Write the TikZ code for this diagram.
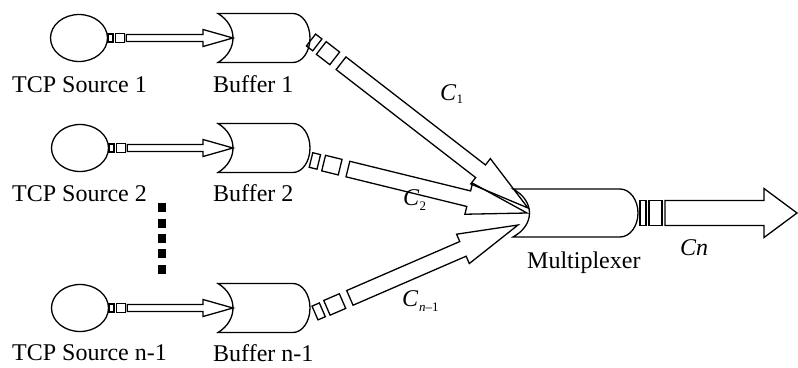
\documentclass[tikz,border=0pt]{standalone}
\usepackage{fontspec}
\setmainfont{Liberation Serif}
\usetikzlibrary{calc,shapes.geometric}

\tikzset{
  ln/.style={line width=1.3pt, line join=miter},
  lbl/.style={font=\fontsize{24}{26}\selectfont, inner sep=0pt, anchor=base west},
  capsym/.style={font=\fontsize{24}{26}\selectfont\itshape, inner sep=0pt, anchor=base west},
  srcnode/.style={ellipse, draw, line width=1.3pt, minimum width=57pt, minimum height=47pt, inner sep=0pt},
}

% block arrow from #1 to #2: shaft half width #3, head half width #4,
% head length #5, tail set back #6 from #1
\newcommand\blockarrow[6]{%
  \draw[ln] let \p1=(#1), \p2=(#2), \n1={atan2(\y2-\y1,\x2-\x1)}, \n2={veclen(\x2-\x1,\y2-\y1)} in
    ($(#1)+(\n1:#6)+(\n1+90:#3)$) -- ($(#1)+(\n1:\n2-#5)+(\n1+90:#3)$)
    -- ($(#1)+(\n1:\n2-#5)+(\n1+90:#4)$) -- (#2)
    -- ($(#1)+(\n1:\n2-#5)+(\n1-90:#4)$) -- ($(#1)+(\n1:\n2-#5)+(\n1-90:#3)$)
    -- ($(#1)+(\n1:#6)+(\n1-90:#3)$) -- cycle;}

% small link block on the way from #1 to #2, from #3 to #4 along, half width #5, pen #6
\newcommand\linkbox[6]{%
  \draw[ln, line width=#6] let \p1=(#1), \p2=(#2), \n1={atan2(\y2-\y1,\x2-\x1)} in
    ($(#1)+(\n1:#3)+(\n1+90:#5)$) -- ($(#1)+(\n1:#4)+(\n1+90:#5)$)
    -- ($(#1)+(\n1:#4)+(\n1-90:#5)$) -- ($(#1)+(\n1:#3)+(\n1-90:#5)$) -- cycle;}

% tank with a hollow left end and a rounded right end; #1 = middle of left end,
% #2 = straight length, #3 = half height, #4 = bulge of right end, #5 = hollow control
\newcommand\tankshape[5]{%
  \draw[ln, shift={(#1)}] (0,-#3) -- (#2,-#3)
    .. controls (#2+0.55*#4,-#3) and (#2+#4,-0.55*#3) .. (#2+#4,0)
    .. controls (#2+#4,0.55*#3) and (#2+0.55*#4,#3) .. (#2,#3)
    -- (0,#3) .. controls (#5,0.5*#3) and (#5,-0.5*#3) .. (0,-#3) -- cycle;}

\begin{document}
\begin{tikzpicture}[x=1pt, y=-1pt]
\useasboundingbox (0,0) rectangle (798,367);

% sources
\node[srcnode] (src1) at (79,38) {};
\node[srcnode] (src2) at (80,148) {};
\node[srcnode] (src3) at (80,308) {};

% buffers and multiplexer
\coordinate (buf1) at (218,38);
\coordinate (buf2) at (218,148);
\coordinate (buf3) at (218,308);
\coordinate (mux) at (513,213);
\tankshape{buf1}{75}{24.5}{17}{20}
\tankshape{buf2}{75}{24.5}{17}{20}
\tankshape{buf3}{75}{24.5}{17}{20}
\tankshape{mux}{107}{24}{18}{22}

\coordinate (buf1in) at (233,38);
\coordinate (buf2in) at (233,148);
\coordinate (buf3in) at (233,308);
\coordinate (buf1out) at (311,40);
\coordinate (buf2out) at (311,160);
\coordinate (buf3out) at (315,313);
\coordinate (mux1) at (528,208);
\coordinate (mux2) at (527,213);
\coordinate (mux3) at (518,225);
\coordinate (muxout) at (638,213);
\coordinate (out) at (797,213);

% source to buffer links
\foreach \i in {1,2,3}{
  \linkbox{src\i.east}{buf\i in}{0pt}{5pt}{4pt}{2pt}
  \linkbox{src\i.east}{buf\i in}{7pt}{16pt}{4.5pt}{1.3pt}
  \blockarrow{src\i.east}{buf\i in}{3.5pt}{8.5pt}{30pt}{18pt}
}

% buffer to multiplexer links
\foreach \i in {1,2,3}{
  \linkbox{buf\i out}{mux\i}{0pt}{8pt}{7.5pt}{1.3pt}
  \linkbox{buf\i out}{mux\i}{13pt}{30pt}{8pt}{1.3pt}
  \blockarrow{buf\i out}{mux\i}{8pt}{16pt}{60pt}{38pt}
}

% multiplexer output
\linkbox{muxout}{out}{2pt}{8pt}{12.5pt}{1.2pt}
\linkbox{muxout}{out}{11pt}{24pt}{12.5pt}{1.2pt}
\blockarrow{muxout}{out}{12.5pt}{24.5pt}{33pt}{27pt}

% ellipsis between source rows
\foreach \yy in {207,223,238,253,269}
  \fill (158,\yy-4.5) rectangle (166,\yy+4.5);

% labels
\node[lbl] (lsrc1) at (12,92.5) {TCP Source 1};
\node[lbl] (lbuf1) at (213,92.5) {Buffer 1};
\node[lbl] (lsrc2) at (12,201.5) {TCP Source 2};
\node[lbl] (lbuf2) at (213,201.5) {Buffer 2};
\node[lbl] (lsrc3) at (12,360.5) {TCP Source n-1};
\node[lbl] (lbuf3) at (213,361.5) {Buffer n-1};
\node[lbl] (lmux) at (527,268) {Multiplexer};

\node[capsym] (c1) at (440,100) {C\kern0.5pt\raisebox{-3pt}{\fontsize{13}{13}\selectfont\upshape 1}};
\node[capsym] (c2) at (403,205) {C\kern0.5pt\raisebox{-5pt}{\fontsize{13}{13}\selectfont\upshape 2}};
\node[capsym] (c3) at (402,306) {C\kern1pt\raisebox{-5pt}{\fontsize{13}{13}\selectfont\textit{n}\upshape–1}};
\node[capsym] (cn) at (680,255) {Cn};
\end{tikzpicture}
\end{document}
